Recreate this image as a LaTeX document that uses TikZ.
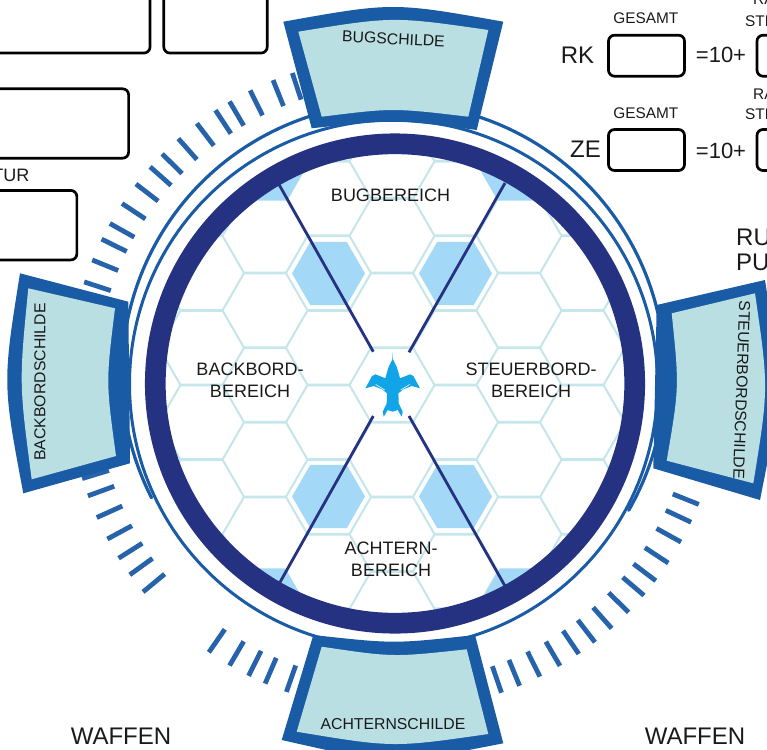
\documentclass[tikz,border=0pt]{standalone}
\usepackage{fontspec}
\setmainfont{Liberation Sans}
\usetikzlibrary{shapes.geometric}
\definecolor{ringnavy}{HTML}{253282}
\definecolor{shieldblue}{HTML}{1A5BA5}
\definecolor{shieldteal}{HTML}{B9DFE3}
\definecolor{hexline}{HTML}{C5E6EA}
\definecolor{hexblue}{HTML}{A3D9F7}
\definecolor{jetcyan}{HTML}{11A5E8}
\definecolor{inkgrey}{HTML}{1A1A1A}

\begin{document}
\begin{tikzpicture}[x=1pt, y=-1pt, every text node part/.style={align=center}, text=inkgrey]
	\tikzstyle{cell} = [regular polygon, regular polygon sides=6, minimum size=85, inner sep=0, outer sep=0, draw=hexline, line width=1.8]
	\tikzstyle{bluecell} = [regular polygon, regular polygon sides=6, minimum size=73, inner sep=0, outer sep=0, fill=hexblue]
	\tikzstyle{slot} = [draw=black, rounded corners=6, line width=2.7, inner sep=0, outer sep=0]
	\tikzstyle{area} = [font = \fontsize{18}{21.5}\selectfont]
	\tikzstyle{shieldname} = [font = \fontsize{15.8}{18}\selectfont]
	\tikzstyle{small} = [font = \fontsize{15.4}{18}\selectfont]
	\tikzstyle{big} = [font = \fontsize{24}{26}\selectfont]
	\tikzstyle{sector} = [draw=ringnavy, line width=2.8]
	\tikzstyle{tick} = [draw=shieldblue, line width=4.8, opacity=0.95]
	\useasboundingbox (0,0) rectangle (767,749);

	% hex floor
	\begin{scope}
		\clip (395,383.5) circle (232);
		\foreach \i in {-4,...,4}
			\foreach \j in {-4,...,4}
				\path (392+63.5*\i, 385+74.6*\j+37.3*\i) node[cell] (c\i\j) {};
		\path (328.5,273.4) node[bluecell] (m1) {};
		\path (455.5,273.4) node[bluecell] (m2) {};
		\path (328.5,496.5) node[bluecell] (m3) {};
		\path (455.5,496.5) node[bluecell] (m4) {};
		\path (269,169) node[bluecell] (m5) {};
		\path (516,169) node[bluecell] (m6) {};
		\path (267,600) node[bluecell] (m7) {};
		\path (518,600) node[bluecell] (m8) {};
	\end{scope}

	% sector lines
	\coordinate (nw0) at (373.3,351.7);
	\coordinate (nw1) at (279.3,185);
	\coordinate (ne0) at (409,352.3);
	\coordinate (ne1) at (505,183);
	\coordinate (sw0) at (373.3,416);
	\coordinate (sw1) at (279,584);
	\coordinate (se0) at (409,416);
	\coordinate (se1) at (505,586);
	\path[sector] (nw0) -- (nw1);
	\path[sector] (ne0) -- (ne1);
	\path[sector] (sw0) -- (sw1);
	\path[sector] (se0) -- (se1);

	% rings
	\path[draw=ringnavy, line width=20.7] (395,383.5) circle (239.7);
	\path[draw=shieldblue, line width=3] (393.5,384) circle (264);
	\path[draw=shieldblue, line width=3.2, line cap=round] (393.5,374.6) ++(-207:271.5) arc[start angle=-207, end angle=30, radius=271.5];

	% ticks
	\foreach \a in {-108.3,-111.9,-116.3,-120.4,-123.3,-127.3,-131.5,-135.4,-138.5,-142.4,-146.6,-150.7,-153.8,-157.8,-161.9,
			-196.9,-200.1,-204.2,-208.4,-212.3,-215.8,-219.6,
			-235.3,-239.6,-243.4,-246.6,-250.6,
			71,67.6,63.7,59.7,55.8,52.3,48.5,44.4,40.4,37.1,33.3,29,25.1,21.7}
		\path[tick] (395,383.5) ++(\a:299) -- ++(\a:28);

	% shields
	\path[fill=shieldblue] (283.3,21.7) .. controls (393,2.1) .. (503.3,21.7) -- (476.7,130) .. controls (394,119.3) .. (311.7,128.3) -- cycle;
	\path[fill=shieldteal] (298.3,31.7) .. controls (393,16.3) .. (488.3,30) -- (468.3,116.7) .. controls (393,107.8) .. (321.7,116.7) -- cycle;
	\path[fill=shieldblue] (313.3,635) .. controls (394,643.9) .. (475,635) -- (503.3,743.3) .. controls (392,765) .. (281.7,740) -- cycle;
	\path[fill=shieldteal] (321.7,646.7) .. controls (393,657.3) .. (466.7,649.3) -- (488.3,734) .. controls (393,747.7) .. (296.7,731.7) -- cycle;
	\path[fill=shieldblue] (20,273.3) .. controls (2.5,383) .. (23.3,493.3) -- (130,463.3) -- (128.3,301.7) -- cycle;
	\path[fill=shieldteal] (28.3,288.3) .. controls (19,383) .. (31.7,479.3) -- (116,456) .. controls (105.9,382) .. (115,308.3) -- cycle;
	\path[fill=shieldblue] (656.7,305) -- (653.3,468.3) -- (760,500) .. controls (781.8,390) .. (765,280) -- cycle;
	\path[fill=shieldteal] (671.7,313.3) .. controls (679.3,387) .. (666.7,460.7) -- (753.3,483.3) .. controls (768.7,388) .. (755,293.3) -- cycle;

	% jet
	\begin{scope}[shift={(392.7,0)}]
		\path[fill=jetcyan] (0,352.3) -- (.3,359.3) -- (4,366.7) -- (6,373.3) -- (7.3,378.3) -- (17.3,374.3) -- (20.7,376) -- (27.3,388.3) -- (19,386) -- (10.7,389.3) -- (5.7,393.3) -- (6,403.3) -- (10,411.7) -- (9,416.7) -- (5,410) -- (0,411.7)
			-- (-5,410) -- (-9,416.7) -- (-10,411.7) -- (-6,403.3) -- (-5.7,393.3) -- (-10.7,389.3) -- (-19,386) -- (-27.3,388.3) -- (-20.7,376) -- (-17.3,374.3) -- (-7.3,378.3) -- (-6,373.3) -- (-4,366.7) -- (-.3,359.3) -- cycle;
		\path[draw=white, line width=.6] (17,384.5) -- (8,390);
		\path[draw=white, line width=.6] (-17,384.5) -- (-8,390);
	\end{scope}

	% areas
	\path (390.5,195) node[area] (bugarea) {BUGBEREICH};
	\path (250,380.5) node[area] (backarea) {BACKBORD-\\BEREICH};
	\path (531,380.5) node[area] (steuerarea) {STEUERBORD-\\BEREICH};
	\path (391,559.5) node[area] (achterarea) {ACHTERN-\\BEREICH};

	% shield labels
	\path (393.5,39) node[shieldname, rotate=-3] (bugname) {BUGSCHILDE};
	\path (40,382) node[shieldname, rotate=90] (backname) {BACKBORDSCHILDE};
	\path (741.7,390) node[shieldname, rotate=-92] (steuername) {STEUERBORDSCHILDE};
	\path (393,724) node[shieldname] (achtername) {ACHTERNSCHILDE};

	% form boxes
	\path (55,6.5) node[slot, minimum width=190, minimum height=93] (topa) {};
	\path (215.5,6.5) node[slot, minimum width=103.4, minimum height=93] (topb) {};
	\path (44.3,123.5) node[slot, minimum width=168.6, minimum height=69.4] (midbox) {};
	\path (18.4,225.2) node[slot, minimum width=116.9, minimum height=69.5] (turbox) {};
	\path (646.5,55.7) node[slot, minimum width=76, minimum height=41] (rkbox) {};
	\path (646.5,150) node[slot, minimum width=76, minimum height=41] (zebox) {};
	\path (796,55.7) node[slot, minimum width=78, minimum height=41] (rkplus) {};
	\path (796,150) node[slot, minimum width=78, minimum height=41] (zeplus) {};

	% form labels
	\path (33,175) node[area, anchor=east] (tur) {TUR};
	\path (577.5,55) node[big] (rk) {RK};
	\path (585.5,149.5) node[big] (ze) {ZE};
	\path (645.8,18) node[small] (gesamta) {GESAMT};
	\path (645.8,113) node[small] (gesamtb) {GESAMT};
	\path (721,55) node[font=\fontsize{22}{24}\selectfont] (sumrk) {=10+};
	\path (721,151) node[font=\fontsize{22}{24}\selectfont] (sumze) {=10+};
	\path (753,-1) node[small, anchor=west, inner sep=0] (raa) {RA};
	\path (745,21) node[small, anchor=west, inner sep=0] (stea) {STE};
	\path (753,94) node[small, anchor=west, inner sep=0] (rab) {RA};
	\path (745,114) node[small, anchor=west, inner sep=0] (steb) {STE};
	\path (736,237) node[big, anchor=west, inner sep=0] (ru) {RU};
	\path (736,262) node[big, anchor=west, inner sep=0] (pu) {PU};
	\path (121,736) node[big] (wafa) {WAFFEN};
	\path (695,736) node[big] (wafb) {WAFFEN};
\end{tikzpicture}
\end{document}
